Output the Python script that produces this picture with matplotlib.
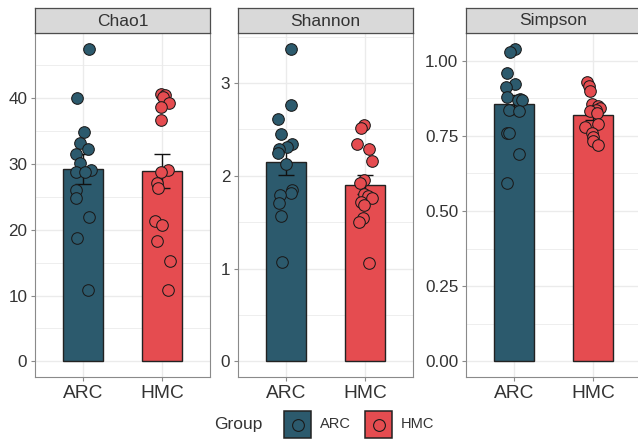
import numpy as np
import matplotlib
matplotlib.use("Agg")
import matplotlib.pyplot as plt
from matplotlib.patches import Rectangle
from matplotlib.lines import Line2D
from matplotlib.ticker import MultipleLocator

plt.rcParams["font.family"] = ["Liberation Sans", "DejaVu Sans"]

groups = ["ARC", "HMC"]
metrics = ["Chao1", "Shannon", "Simpson"]

# alpha-diversity values per sample
chao1_arc = [47.5, 40.0, 34.9, 33.1, 32.2, 31.5, 30.2, 29.1, 28.8, 28.8, 26.0, 24.8, 21.9, 18.8, 10.8]
chao1_hmc = [40.6, 40.5, 40.2, 39.3, 38.7, 36.7, 29.1, 28.7, 27.1, 26.3, 21.3, 20.7, 18.3, 15.2, 10.8]
shannon_arc = [3.37, 2.76, 2.61, 2.45, 2.34, 2.31, 2.29, 2.24, 2.13, 1.85, 1.81, 1.79, 1.71, 1.57, 1.07]
shannon_hmc = [2.55, 2.51, 2.34, 2.29, 2.16, 1.955, 1.92, 1.80, 1.78, 1.76, 1.72, 1.68, 1.55, 1.50, 1.06]
simpson_arc = [1.040, 1.029, 0.960, 0.923, 0.912, 0.879, 0.872, 0.870, 0.868, 0.835, 0.831, 0.759, 0.759, 0.691, 0.594]
simpson_hmc = [0.930, 0.915, 0.898, 0.855, 0.850, 0.843, 0.835, 0.832, 0.825, 0.789, 0.779, 0.760, 0.745, 0.733, 0.718]

# horizontal jitter of the sample points (x units)
jit_chao1_arc = [0.08, -0.07, 0.02, -0.04, 0.07, -0.08, -0.04, 0.11, -0.08, 0.03, -0.08, -0.08, 0.08, -0.07, 0.06]
jit_chao1_hmc = [-0.02, 0.035, 0.01, 0.09, -0.02, -0.02, 0.07, -0.01, -0.07, -0.05, -0.09, 0.0, -0.07, 0.10, 0.07]
jit_shannon_arc = [0.06, 0.07, -0.10, -0.06, 0.08, 0.02, -0.08, -0.10, 0.0, 0.08, 0.06, -0.07, -0.08, -0.06, -0.05]
jit_shannon_hmc = [-0.01, -0.06, -0.10, 0.05, 0.08, -0.01, -0.07, -0.02, 0.03, 0.08, -0.05, -0.01, -0.03, -0.08, 0.05]
jit_simpson_arc = [0.02, -0.05, -0.09, 0.01, -0.10, -0.09, 0.08, 0.05, 0.10, -0.06, 0.07, -0.09, -0.06, 0.07, -0.08]
jit_simpson_hmc = [-0.08, -0.06, -0.04, -0.02, 0.06, 0.09, 0.03, -0.04, 0.05, 0.06, -0.10, -0.01, 0.0, 0.0, 0.06]

values = {
    "Chao1": (chao1_arc, chao1_hmc),
    "Shannon": (shannon_arc, shannon_hmc),
    "Simpson": (simpson_arc, simpson_hmc),
}
jitters = {
    "Chao1": (jit_chao1_arc, jit_chao1_hmc),
    "Shannon": (jit_shannon_arc, jit_shannon_hmc),
    "Simpson": (jit_simpson_arc, jit_simpson_hmc),
}
major_step = {"Chao1": 10, "Shannon": 1, "Simpson": 0.25}
tick_fmt = {"Chao1": "{:.0f}", "Shannon": "{:.0f}", "Simpson": "{:.2f}"}

colors = {"ARC": "#2c5a6d", "HMC": "#e54c50"}
grid_col = "#ebebeb"
border_col = "#8a8a8a"
text_col = "#333333"

W, H = 638, 441
fig = plt.figure(figsize=(W / 100, H / 100), dpi=100)

panel_left = [35, 238, 466]
panel_w = 175
panel_top, panel_bot = 33, 377
strip_top = 8


def fx(px):
    return px / W


def fy(py):
    return 1 - py / H


for metric, left in zip(metrics, panel_left):
    ax = fig.add_axes([fx(left), fy(panel_bot), panel_w / W, (panel_bot - panel_top) / H])
    arc, hmc = values[metric]
    ymax = max(max(arc), max(hmc))
    ax.set_ylim(-0.05 * ymax, ymax * 1.05)
    ax.set_xlim(0.4, 2.6)

    step = major_step[metric]
    ax.yaxis.set_major_locator(MultipleLocator(step))
    ax.yaxis.set_minor_locator(MultipleLocator(step / 2))
    ax.set_axisbelow(True)
    ax.grid(which="major", axis="y", color=grid_col, lw=1.0)
    ax.grid(which="minor", axis="y", color=grid_col, lw=0.6)
    ax.grid(which="major", axis="x", color=grid_col, lw=1.0)

    for i, (g, data, jit) in enumerate(zip(groups, (arc, hmc), jitters[metric])):
        xpos = i + 1
        d = np.asarray(data)
        mean = d.mean()
        se = d.std(ddof=1) / np.sqrt(len(d))
        ax.bar(xpos, mean, width=0.5, color=colors[g], edgecolor="#222222", lw=1.0, zorder=2)
        ax.errorbar(xpos, mean, yerr=se, fmt="none", ecolor="#111111", elinewidth=1.0,
                    capsize=5.7, capthick=1.0, zorder=3)
        ax.scatter(xpos + np.asarray(jit), d, s=70, color=colors[g], edgecolors="#1a1a1a",
                   linewidths=0.75, zorder=4)

    ax.set_xticks([1, 2])
    ax.set_xticklabels(groups, fontsize=13.8, color=text_col)
    ticks = [t for t in ax.get_yticks() if -1e-9 <= t <= ymax * 1.05]
    ax.set_yticks(ticks)
    ax.set_yticklabels([tick_fmt[metric].format(t) for t in ticks], fontsize=12.3, color=text_col)
    ax.tick_params(axis="both", which="major", length=3, width=0.8, color=border_col, pad=2.5)
    ax.tick_params(axis="y", which="minor", length=0)
    for sp in ax.spines.values():
        sp.set_color(border_col)
        sp.set_linewidth(0.8)

    # facet strip
    sax = fig.add_axes([fx(left), fy(panel_top), panel_w / W, (panel_top - strip_top) / H])
    sax.set_xticks([])
    sax.set_yticks([])
    sax.set_facecolor("#d9d9d9")
    for sp in sax.spines.values():
        sp.set_color("#4d4d4d")
        sp.set_linewidth(0.9)
    sax.text(0.5, 0.48, metric, ha="center", va="center", fontsize=12.5, color=text_col,
             transform=sax.transAxes)

# legend
fig.text(fx(238), fy(424), "Group", ha="center", va="center", fontsize=12.5, color=text_col)
key_left = {"ARC": 284, "HMC": 365}
for g in groups:
    kx = key_left[g]
    fig.patches.append(Rectangle((fx(kx), fy(438)), 27 / W, 27 / H, transform=fig.transFigure,
                                 facecolor=colors[g], edgecolor="#222222", lw=1.1))
    fig.lines.append(Line2D([fx(kx + 13.5)], [fy(424.5)], transform=fig.transFigure, marker="o",
                            markersize=8.5, markerfacecolor=colors[g],
                            markeredgecolor="#1a1a1a", markeredgewidth=0.8, linestyle="none"))
    fig.text(fx(kx + 36), fy(424.5), g, ha="left", va="center", fontsize=10.5, color=text_col)

fig.savefig("out.png", dpi=100)
